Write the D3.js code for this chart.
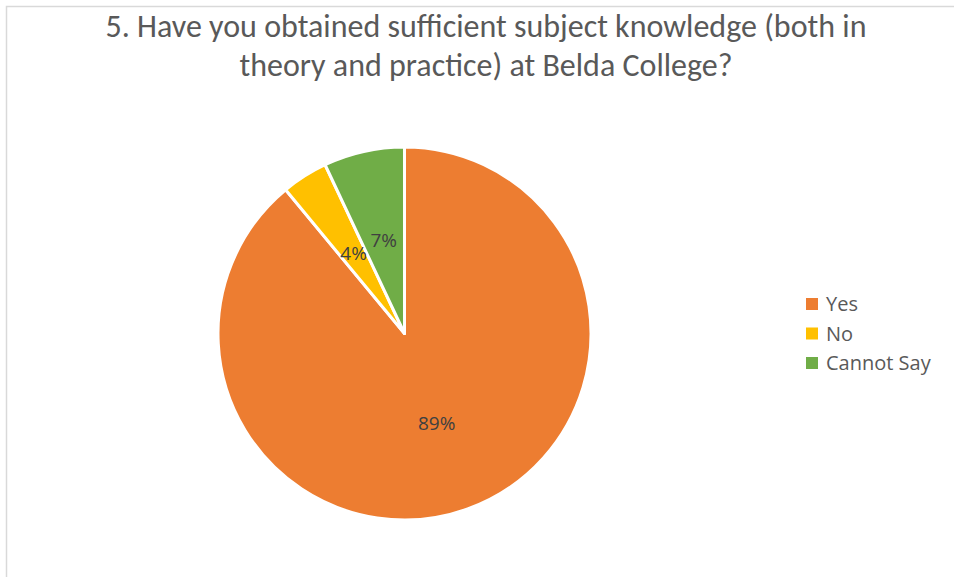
<!DOCTYPE html>
<html><head><meta charset="utf-8">
<script src="https://cdn.jsdelivr.net/npm/d3@7"></script>
<style>body{margin:0;background:#fff}svg{display:block}</style>
</head><body>
<script>
const categories = ["Yes", "No", "Cannot Say"];
const values = [89, 4, 7];
const colors = ["#ED7D31", "#FFC000", "#70AD47"];
const titleLines = ["5. Have you obtained sufficient subject knowledge (both in", "theory and practice) at Belda College?"];

const W = 954, H = 577;
const svg = d3.select("body").append("svg").attr("width", W).attr("height", H);
svg.append("rect").attr("width", W).attr("height", H).attr("fill", "#fff");
svg.append("path").attr("d", `M6.5,${H} V6.5 H${W}`).attr("fill", "none").attr("stroke", "#d9d9d9").attr("stroke-width", 1.5);

const titleFont = "Carlito, 'Open Sans', sans-serif";
const font = "'Open Sans', 'Noto Sans', sans-serif";
svg.append("g").selectAll("text").data(titleLines).join("text")
  .attr("x", 486).attr("y", (d, i) => 37 + i * 39)
  .attr("text-anchor", "middle").attr("fill", "#595959")
  .style("font-family", titleFont).style("font-size", "32px")
  .text(d => d);

const cx = 404.5, cy = 333.5, r = 186.5;
const pie = d3.pie().sort(null).value(d => d.v);
const data = pie(categories.map((c, i) => ({c, v: values[i], col: colors[i]})));
const arc = d3.arc().innerRadius(0).outerRadius(r);
const labelArc = d3.arc().innerRadius(95).outerRadius(95);
const g = svg.append("g").attr("transform", `translate(${cx},${cy})`);
g.selectAll("path").data(data).join("path")
  .attr("d", arc).attr("fill", d => d.data.col)
  .attr("stroke", "#fff").attr("stroke-width", 3).attr("stroke-linejoin", "round");
g.selectAll("text").data(data).join("text")
  .attr("transform", d => `translate(${labelArc.centroid(d)})`)
  .attr("text-anchor", "middle").attr("dy", "0.35em")
  .attr("fill", "#404040").style("font-family", font).style("font-size", "19px")
  .text(d => d.data.v + "%");

const lg = svg.append("g").attr("transform", "translate(806,304)");
const items = lg.selectAll("g").data(categories).join("g")
  .attr("transform", (d, i) => `translate(0,${i * 29.5})`);
items.append("rect").attr("x", 0).attr("y", -6).attr("width", 12).attr("height", 12).attr("fill", (d, i) => colors[i]);
items.append("text").attr("x", 20).attr("y", 0).attr("dy", "0.35em")
  .attr("fill", "#595959").style("font-family", font).style("font-size", "20px").text(d => d);
</script>
</body></html>
